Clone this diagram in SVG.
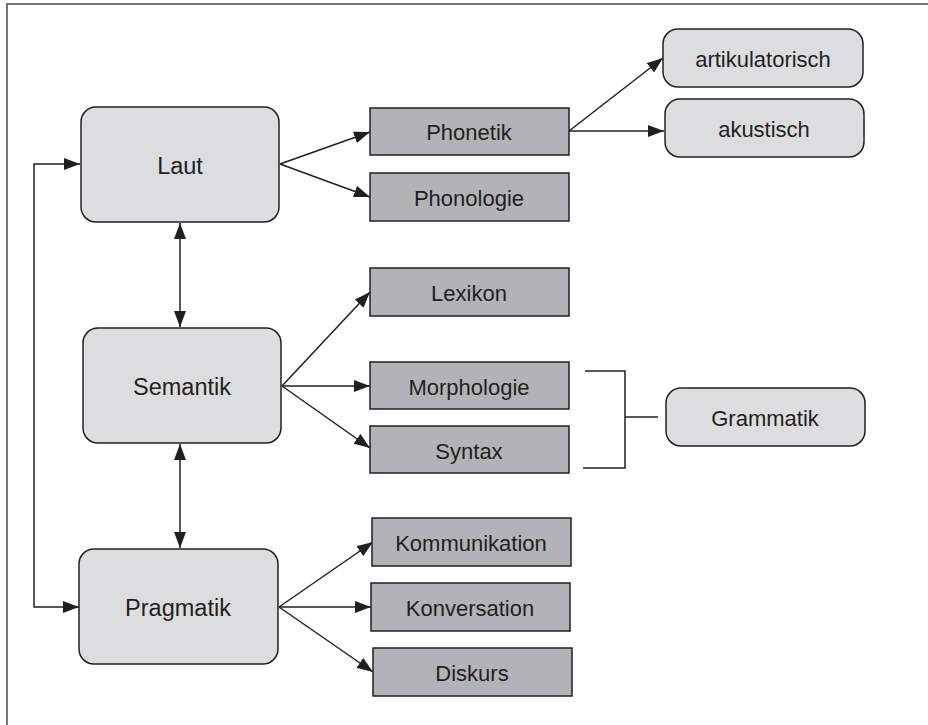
<svg xmlns="http://www.w3.org/2000/svg" width="928" height="725" viewBox="0 0 928 725">
<style>
.big{fill:#dcdddf;stroke:#231f20;stroke-width:1.5}
.small{fill:#b2b3b6;stroke:#231f20;stroke-width:1.5}
text{font-family:"Liberation Sans",Arial,sans-serif;fill:#231f20;text-anchor:middle;dominant-baseline:central}
.tb{font-size:23.5px}
.ts{font-size:22px}
.c{fill:none;stroke:#231f20;stroke-width:1.5}
</style>
<defs>
<marker id="ah" markerUnits="userSpaceOnUse" markerWidth="16" markerHeight="12" refX="16" refY="6" orient="auto-start-reverse">
<path d="M0,0 L16,6 L0,12 z" fill="#231f20"/>
</marker>
</defs>
<rect width="928" height="725" fill="#fff"/>
<path d="M7,725 L7,4 L928,4" fill="none" stroke="#4a4a4a" stroke-width="1.5"/>

<g id="connectors">
<path class="c" d="M280,164 L370,132" marker-end="url(#ah)"/>
<path class="c" d="M280,164 L370,197" marker-end="url(#ah)"/>
<path class="c" d="M569,131 L663,58" marker-end="url(#ah)"/>
<path class="c" d="M569,131 L664,131" marker-end="url(#ah)"/>
<path class="c" d="M180,223 L180,327" marker-start="url(#ah)" marker-end="url(#ah)"/>
<path class="c" d="M180,444 L180,548" marker-start="url(#ah)" marker-end="url(#ah)"/>
<path class="c" d="M80,164 L34,164 L34,607 L79,607" marker-start="url(#ah)" marker-end="url(#ah)"/>
<path class="c" d="M282,386 L370,292" marker-end="url(#ah)"/>
<path class="c" d="M282,386 L370,386" marker-end="url(#ah)"/>
<path class="c" d="M282,386 L370,448" marker-end="url(#ah)"/>
<path class="c" d="M279,607 L373,542" marker-end="url(#ah)"/>
<path class="c" d="M279,607 L371,607" marker-end="url(#ah)"/>
<path class="c" d="M279,607 L373,672" marker-end="url(#ah)"/>
<path class="c" d="M585,371 L625,371 L625,468 L583,468 M625,417 L658,417"/>
</g>

<g id="laut"><rect class="big" x="81" y="107" width="198" height="115" rx="15"/><text class="tb" x="180" y="166">Laut</text></g>
<g id="semantik"><rect class="big" x="83" y="328" width="198" height="115" rx="15"/><text class="tb" x="182" y="387">Semantik</text></g>
<g id="pragmatik"><rect class="big" x="79" y="549" width="199" height="115" rx="15"/><text class="tb" x="178" y="608">Pragmatik</text></g>

<g id="phonetik"><rect class="small" x="370" y="108" width="199" height="47"/><text class="ts" x="469" y="132">Phonetik</text></g>
<g id="phonologie"><rect class="small" x="370" y="173" width="199" height="48"/><text class="ts" x="469" y="198">Phonologie</text></g>
<g id="artikulatorisch"><rect class="big" x="663" y="29" width="200" height="58" rx="15"/><text class="ts" x="763" y="59">artikulatorisch</text></g>
<g id="akustisch"><rect class="big" x="665" y="99" width="199" height="58" rx="15"/><text class="ts" x="764" y="129">akustisch</text></g>

<g id="lexikon"><rect class="small" x="370" y="268" width="199" height="48"/><text class="ts" x="469" y="293">Lexikon</text></g>
<g id="morphologie"><rect class="small" x="370" y="362" width="199" height="47"/><text class="ts" x="469" y="387">Morphologie</text></g>
<g id="syntax"><rect class="small" x="370" y="426" width="199" height="47"/><text class="ts" x="469" y="451">Syntax</text></g>
<g id="grammatik"><rect class="big" x="666" y="388" width="199" height="58" rx="15"/><text class="ts" x="765" y="418">Grammatik</text></g>

<g id="kommunikation"><rect class="small" x="372" y="518" width="199" height="48"/><text class="ts" x="471" y="543">Kommunikation</text></g>
<g id="konversation"><rect class="small" x="371" y="583" width="199" height="48"/><text class="ts" x="470" y="608">Konversation</text></g>
<g id="diskurs"><rect class="small" x="373" y="648" width="199" height="48"/><text class="ts" x="472" y="673">Diskurs</text></g>
</svg>
